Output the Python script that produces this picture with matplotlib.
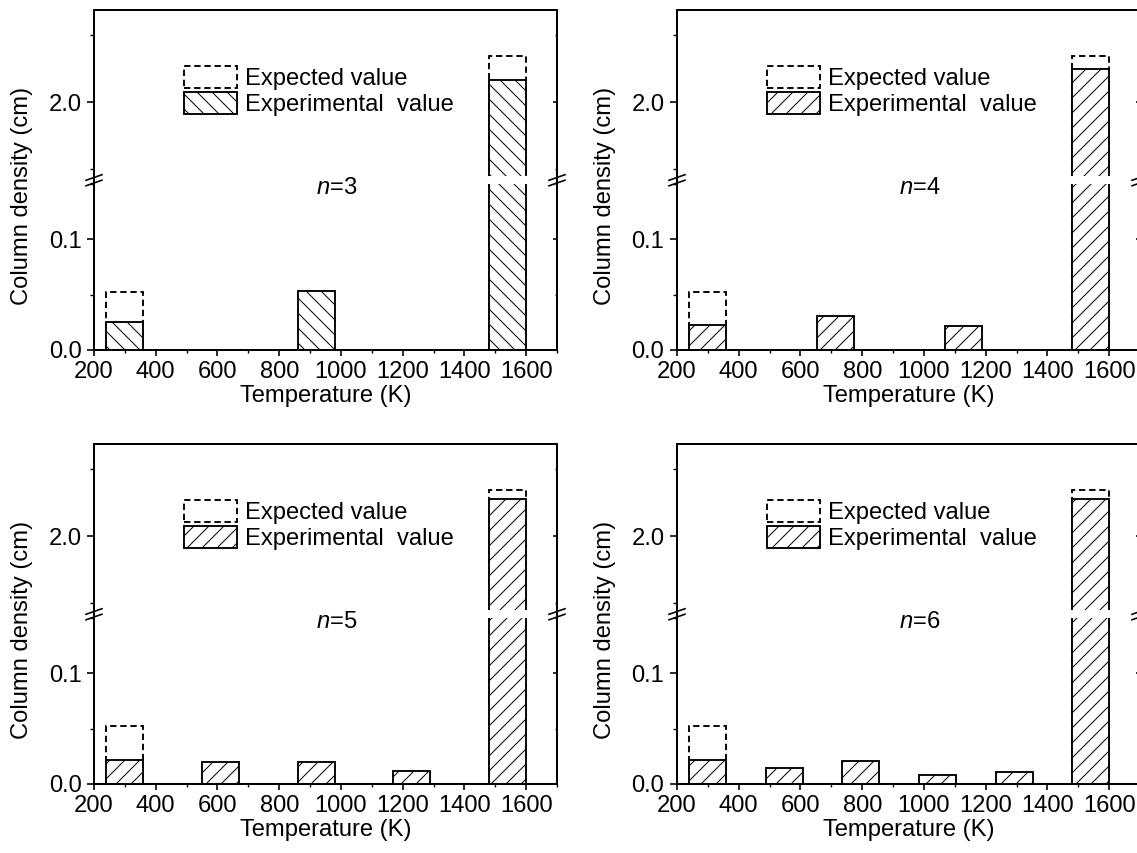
import matplotlib
matplotlib.use('Agg')
import matplotlib.pyplot as plt
from matplotlib.patches import Patch
from matplotlib.lines import Line2D
from matplotlib.ticker import MultipleLocator, FormatStrFormatter

plt.rcParams['font.family'] = 'Liberation Sans'
plt.rcParams['mathtext.fontset'] = 'custom'
plt.rcParams['mathtext.rm'] = 'Liberation Sans'
plt.rcParams['mathtext.it'] = 'Liberation Sans:italic'
plt.rcParams['hatch.linewidth'] = 0.8

# bar centres (K) and column densities
temps_n3 = [300, 920, 1540]
exp_n3 = [0.025, 0.053, 2.17]
temps_n4 = [300, 713, 1127, 1540]
exp_n4 = [0.023, 0.031, 0.022, 2.246]
temps_n5 = [300, 610, 920, 1230, 1540]
exp_n5 = [0.0216, 0.020, 0.020, 0.012, 2.276]
temps_n6 = [300, 548, 796, 1044, 1292, 1540]
exp_n6 = [0.0216, 0.0145, 0.0207, 0.008, 0.011, 2.28]

expected_temps = [300, 1540]
expected_n3 = [0.052, 2.343]
expected_n4 = [0.052, 2.343]
expected_n5 = [0.052, 2.343]
expected_n6 = [0.052, 2.343]

W, H = 1137, 853
DPI = 90
FS = 19
LW = 1.6
DASH = (0, (3.4, 2.0))

fig = plt.figure(figsize=(W / DPI, H / DPI), dpi=DPI)


def rect(x0, y0, x1, y1):
    return [x0 / W, 1 - y1 / H, (x1 - x0) / W, (y1 - y0) / H]


def fline(xs, ys, lw=LW):
    fig.add_artist(Line2D([x / W for x in xs], [1 - y / H for y in ys],
                          color='black', lw=lw, transform=fig.transFigure,
                          clip_on=False))


def draw_panel(col, row, temps, exp, expected, n, hatch):
    x0 = [94, 677][col]
    x1 = x0 + 463
    top = [10, 444][row]
    up = fig.add_axes(rect(x0, top, x1, top + 166))
    low = fig.add_axes(rect(x0, top + 174, x1, top + 340))

    for ax in (up, low):
        ax.bar(expected_temps, expected, width=120, facecolor='none',
               edgecolor='black', linestyle=DASH, linewidth=1.5)
        ax.bar(temps, exp, width=120, facecolor='white', edgecolor='black',
               hatch=hatch, linewidth=1.5)
        ax.set_xlim(200, 1700)
        for s in ax.spines.values():
            s.set_linewidth(LW)
        ax.tick_params(axis='y', which='major', direction='out', length=5.6,
                       width=1.3, pad=4.5, labelsize=FS, right=False)
        ax.tick_params(axis='y', which='minor', direction='out', length=3,
                       width=1.1, right=False)
        sec = ax.secondary_yaxis('right')
        sec.spines['right'].set_linewidth(LW)
        sec.tick_params(which='major', direction='in', length=3.5, width=1.3,
                        labelright=False)
        sec.tick_params(which='minor', direction='in', length=2, width=1.1)

    up.set_ylim(1.45, 2.69)
    low.set_ylim(0, 0.15)
    for ax, major, minor in ((up, 1.0, 0.5), (low, 0.1, 0.05)):
        ax.yaxis.set_major_locator(MultipleLocator(major))
        ax.yaxis.set_minor_locator(MultipleLocator(minor))
        ax.yaxis.set_major_formatter(FormatStrFormatter('%.1f'))
        sec = ax.child_axes[0]
        sec.yaxis.set_major_locator(MultipleLocator(major))
        sec.yaxis.set_minor_locator(MultipleLocator(minor))

    up.spines['bottom'].set_visible(False)
    up.tick_params(axis='x', which='both', bottom=False, top=False,
                   labelbottom=False)
    low.spines['top'].set_visible(False)
    low.xaxis.set_major_locator(MultipleLocator(200))
    low.xaxis.set_minor_locator(MultipleLocator(100))
    low.tick_params(axis='x', which='major', direction='out', length=4.5,
                    width=1.3, pad=4, labelsize=FS, top=False)
    low.tick_params(axis='x', which='minor', direction='out', length=2.5,
                    width=1.1, top=False)
    low.set_xlabel('Temperature (K)', fontsize=FS, labelpad=2)

    handles = [Patch(facecolor='none', edgecolor='black', linestyle=DASH, linewidth=1.5),
               Patch(facecolor='white', edgecolor='black', hatch=hatch, linewidth=1.5)]
    up.legend(handles, ['Expected value', 'Experimental  value'], loc='upper left',
              bbox_to_anchor=(0.194, 0.665), frameon=False, fontsize=FS,
              borderpad=0, borderaxespad=0, handlelength=2.25, handleheight=1.05,
              handletextpad=0.33, labelspacing=0.1)

    # axis break marks
    for xs in (x0, x1):
        fline([xs, xs], [top + 166, top + 174])
        for yc in (top + 167.5, top + 173):
            fline([xs - 8, xs + 8], [yc + 2.8, yc - 2.8], lw=1.3)

    fig.text((x0 + 0.525 * 463) / W, 1 - (top + 178) / H, '$n$=%d' % n,
             fontsize=FS, ha='center', va='center')
    fig.text((x0 - 72) / W, 1 - (top + 186) / H, 'Column density (cm)',
             fontsize=FS, ha='center', va='center', rotation=90)


draw_panel(0, 0, temps_n3, exp_n3, expected_n3, 3, '\\\\')
draw_panel(1, 0, temps_n4, exp_n4, expected_n4, 4, '//')
draw_panel(0, 1, temps_n5, exp_n5, expected_n5, 5, '//')
draw_panel(1, 1, temps_n6, exp_n6, expected_n6, 6, '//')

fig.savefig('out.png', dpi=DPI)
